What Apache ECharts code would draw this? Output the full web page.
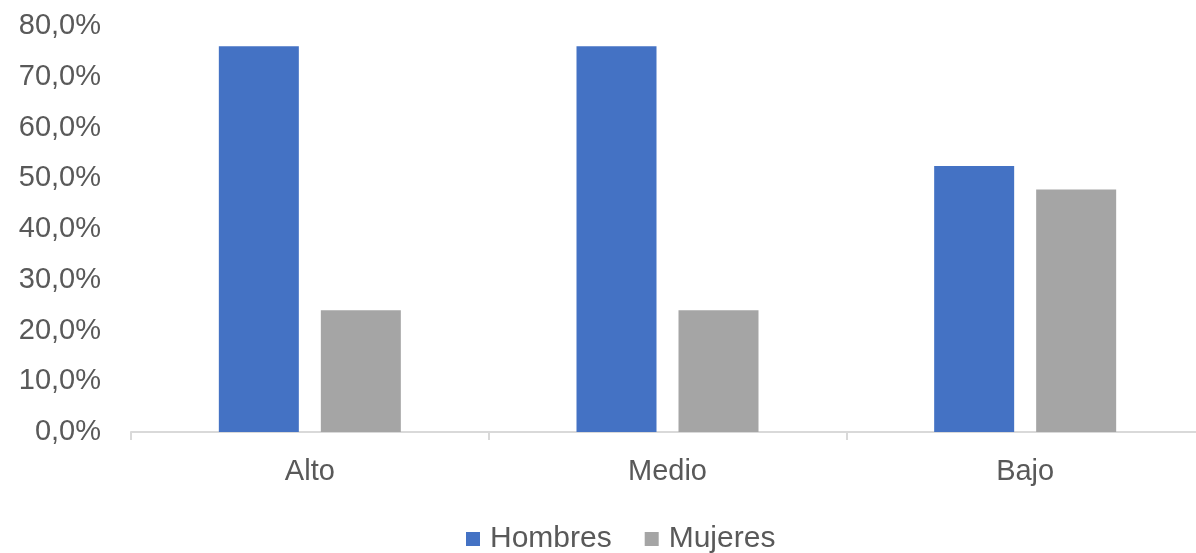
<!DOCTYPE html>
<html><head><meta charset="utf-8">
<script src="https://cdn.jsdelivr.net/npm/echarts@6/dist/echarts.min.js"></script>
<style>html,body{margin:0;padding:0;background:#fff;overflow:hidden;width:1196px;height:553px}#c{width:1206px;height:553px}</style>
</head><body><div id="c"></div>
<script>
const categories = ['Alto', 'Medio', 'Bajo'];
const hombres = [76.0, 76.0, 52.4];
const mujeres = [24.0, 24.0, 47.8];
const yTicks = [0, 10, 20, 30, 40, 50, 60, 70, 80];

const chart = echarts.init(document.getElementById('c'));
const font = 'Liberation Sans, Arial, sans-serif';
chart.setOption({
  animation: false,
  grid: { left: 131, width: 1073, top: 26, height: 406, containLabel: false },
  legend: {
    top: 524, left: 466, padding: 0, itemWidth: 14, itemHeight: 14, itemGap: 33,
    icon: 'rect',
    textStyle: { fontSize: 30, color: '#595959', fontFamily: font, padding: [0, 0, 0, 5] },
    data: ['Hombres', 'Mujeres']
  },
  xAxis: {
    type: 'category', data: categories,
    axisLine: { lineStyle: { color: '#d9d9d9', width: 2 } },
    axisTick: { show: true, length: 8, lineStyle: { color: '#d9d9d9', width: 2 } },
    axisLabel: { fontSize: 29, color: '#595959', fontFamily: font, margin: 25 }
  },
  yAxis: {
    type: 'value', min: yTicks[0], max: yTicks[yTicks.length - 1], interval: 10,
    splitLine: { show: false },
    axisLine: { show: false }, axisTick: { show: false },
    axisLabel: { fontSize: 29, color: '#595959', fontFamily: font, margin: 30,
      formatter: v => v.toFixed(1).replace('.', ',') + '%' }
  },
  series: [
    { name: 'Hombres', type: 'bar', data: hombres, barWidth: 80, barGap: '27.5%',
      itemStyle: { color: '#4472c4' } },
    { name: 'Mujeres', type: 'bar', data: mujeres, barWidth: 80,
      itemStyle: { color: '#a5a5a5' } }
  ]
});
</script></body></html>
